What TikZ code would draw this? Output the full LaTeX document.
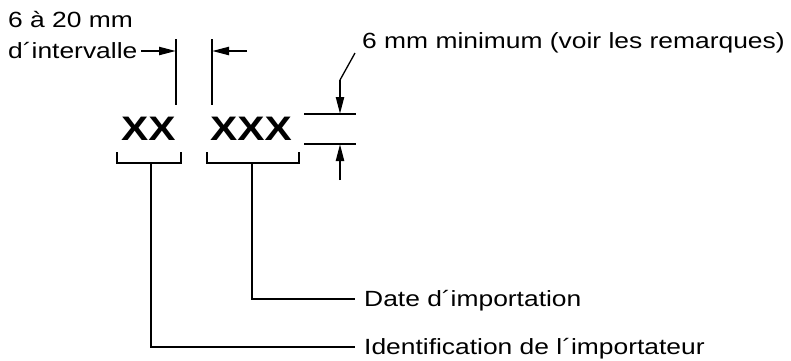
\documentclass[tikz,border=0pt]{standalone}
\usepackage{fontspec}
\setmainfont{Liberation Sans}[FakeStretch=1.2]
\newfontfamily\xfont{Liberation Sans}[FakeStretch=1.2]
\usetikzlibrary{arrows.meta}
\begin{document}
\begin{tikzpicture}[x=1pt,y=-1pt,
  lbl/.style={anchor=base west,inner sep=0pt,font=\fontsize{22}{26}\selectfont},
  big/.style={anchor=base west,inner sep=0pt,font=\xfont\bfseries\fontsize{34}{36}\selectfont},
  arr/.style={-{Triangle[length=17pt,width=8pt]},line width=2.2pt},
  gapline/.style={line width=2.4pt},
  brk/.style={line width=2pt},
  stem/.style={line width=1.8pt},
  dimline/.style={line width=2.6pt},
  leader/.style={line width=1.3pt}]
\useasboundingbox (0,0) rectangle (791,360);
% gap annotation
\node[lbl] (t1) at (8,27) {6 à 20 mm};
\node[lbl] (t2) at (8,58) {d´intervalle};
\coordinate (g1t) at (176,39);
\coordinate (g1b) at (176,105);
\coordinate (g2t) at (212,39);
\coordinate (g2b) at (212,105);
\draw[gapline] (g1t) -- (g1b);
\draw[gapline] (g2t) -- (g2b);
\coordinate (a1s) at (141,51);
\coordinate (a2s) at (247,51);
\draw[arr] (a1s) -- (a1s -| g1t);
\draw[arr] (a2s) -- (a2s -| g2t);
% marks
\node[big] (xx) at (121,140) {XX};
\node[big] (xxx) at (210,140) {XXX};
% brackets
\draw[brk] (117,152) |- (181,163) -- (181,152);
\draw[brk] (207,152) |- (299,163) -- (299,152);
\coordinate (s1) at (151,163);
\coordinate (s2) at (252,163);
\coordinate (e1) at (355,347);
\coordinate (e2) at (355,299);
\node[lbl] (date) at (364,306) {Date d´importation};
\node[lbl] (ident) at (364,354) {Identification de l´importateur};
\draw[stem] (s2) |- (e2);
\draw[stem] (s1) |- (e1);
% height dimension
\coordinate (h1l) at (304,114);
\coordinate (h1r) at (356,114);
\coordinate (h2l) at (304,144);
\coordinate (h2r) at (356,144);
\draw[dimline] (h1l) -- (h1r);
\draw[dimline] (h2l) -- (h2r);
\coordinate (d1) at (340,80);
\coordinate (d2) at (340,180);
\coordinate (lead) at (355,53);
\draw[arr] (d1) -- (d1 |- h1l);
\draw[arr] (d2) -- (d2 |- h2l);
\draw[leader] (d1) -- (lead);
\node[lbl] (note) at (362,48) {6 mm minimum (voir les remarques)};
\end{tikzpicture}
\end{document}
